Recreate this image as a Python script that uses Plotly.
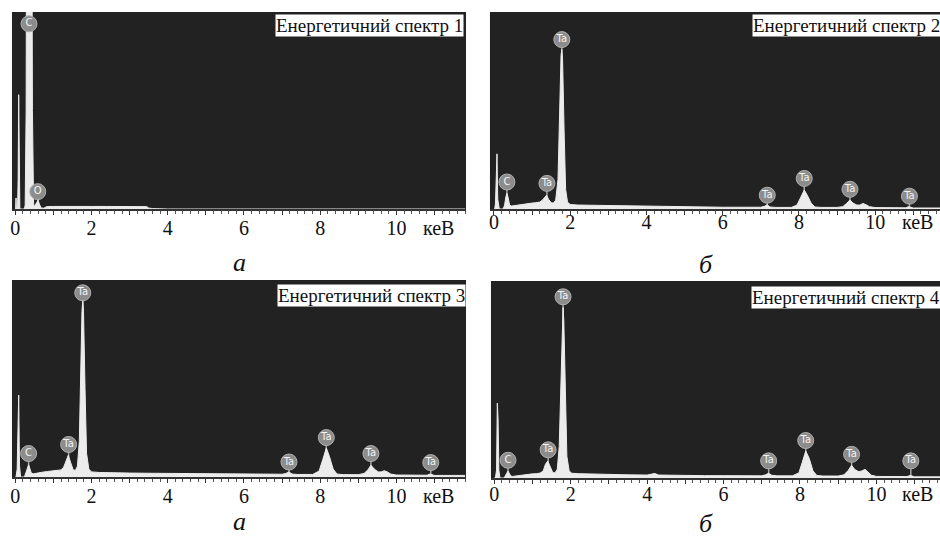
import plotly.graph_objects as go

W, H = 940, 542

# ---------------- data (energy keV, relative intensity) ----------------
s1_x = [0.00, 0.01, 0.02, 0.03, 0.06, 0.075, 0.09, 0.105, 0.12, 0.24, 0.26, 0.285, 0.30, 0.43, 0.45, 0.48,
        0.50, 0.54, 0.57, 0.60, 0.63, 0.68, 0.75, 0.82, 1.0, 1.3, 1.6, 2.0, 2.4, 2.8, 3.2, 3.45, 3.5, 3.6, 4.0, 11.8]
s1_y = [0, 0, 5.6, 0, 0, 15, 58, 15, 0, 0, 2, 50, 200, 200, 50, 3,
        1, 2.5, 4.0, 4.5, 2.5, 0.5, 0.4, 1.2, 1.3, 1.4, 1.4, 1.3, 1.3, 1.3, 1.2, 1.2, 0.5, 0.2, 0, 0]

s2_x = [0.00, 0.02, 0.04, 0.06, 0.08, 0.10, 0.14, 0.24, 0.28, 0.31, 0.34, 0.37, 0.41, 0.46,
        0.55, 0.7, 0.85, 1.0, 1.1, 1.2, 1.27, 1.33, 1.38, 1.43, 1.50, 1.56, 1.62, 1.68,
        1.72, 1.76, 1.78, 1.80, 1.84, 1.88, 1.93, 2.0, 2.2, 2.5, 3.0, 3.5, 4.0, 4.5, 5.0, 5.5, 6.0, 6.5, 7.0,
        7.1, 7.17, 7.24, 7.4, 7.8, 7.95, 8.05, 8.14, 8.22, 8.32, 8.42, 8.6,
        9.0, 9.15, 9.25, 9.34, 9.42, 9.52, 9.6, 9.68, 9.76, 9.85, 10.0, 10.5, 10.8, 10.88, 10.95, 11.0, 11.8]
s2_y = [0, 0, 3, 20, 28, 5, 0, 0, 2, 6, 8, 6, 2, 1.5,
        1.8, 2.2, 2.6, 3.0, 3.2, 3.5, 4.5, 6.0, 7.0, 5.0, 3.2, 3.0, 4.5, 15,
        50, 78, 81, 76, 40, 10, 3.5, 2.3, 2.0, 1.9, 1.7, 1.5, 1.3, 1.2, 1.1, 1.0, 0.9, 0.9, 0.9,
        1.4, 2.2, 1.0, 0.8, 0.8, 2.0, 6.0, 9.6, 7.0, 3.0, 1.0, 0.8,
        0.8, 1.2, 2.8, 4.6, 3.0, 2.0, 2.0, 2.8, 2.2, 1.2, 0.7, 0.6, 0.6, 1.2, 1.0, 0.5, 0.5]

s3_x = [0.00, 0.02, 0.05, 0.07, 0.09, 0.11, 0.14, 0.24, 0.28, 0.32, 0.35, 0.38, 0.42, 0.47,
        0.55, 0.7, 0.85, 1.0, 1.1, 1.2, 1.27, 1.33, 1.39, 1.45, 1.52, 1.58, 1.63, 1.68,
        1.71, 1.75, 1.77, 1.79, 1.83, 1.87, 1.93, 2.0, 2.2, 2.5, 3.0, 3.5, 4.0, 4.5, 5.0, 5.5, 6.0, 6.5, 7.0,
        7.1, 7.18, 7.26, 7.4, 7.8, 7.97, 8.07, 8.16, 8.24, 8.34, 8.44, 8.6,
        9.0, 9.15, 9.25, 9.33, 9.42, 9.52, 9.6, 9.68, 9.76, 9.85, 10.0, 10.5, 10.8, 10.88, 10.95, 11.0, 11.8]
s3_y = [0, 0, 4, 25, 41.6, 6, 0, 0, 2, 5, 6.2, 4.5, 2, 1.6,
        2.0, 2.4, 2.8, 3.0, 3.2, 3.6, 5.0, 8.5, 11, 7.5, 3.6, 3.4, 5.5, 18,
        50, 84, 90, 84, 45, 12, 4, 2.6, 2.3, 2.1, 2.0, 1.9, 1.8, 1.7, 1.6, 1.5, 1.4, 1.4, 1.4,
        1.8, 2.6, 1.5, 1.3, 1.3, 3.0, 9.0, 14.7, 10.5, 4.0, 1.5, 1.2,
        1.2, 1.8, 3.6, 6.0, 4.0, 2.6, 2.6, 3.2, 2.6, 1.5, 1.0, 0.9, 0.9, 1.5, 1.1, 0.8, 0.8]

s4_x = [0.00, 0.03, 0.06, 0.08, 0.10, 0.12, 0.15, 0.26, 0.30, 0.33, 0.36, 0.39, 0.43, 0.48,
        0.55, 0.7, 0.85, 1.0, 1.1, 1.2, 1.28, 1.34, 1.40, 1.46, 1.53, 1.59, 1.65, 1.70,
        1.74, 1.78, 1.80, 1.82, 1.86, 1.90, 1.96, 2.03, 2.2, 2.5, 3.0, 3.5, 4.0, 4.2, 4.3, 4.5, 5.0, 5.5, 6.0, 6.5, 7.0,
        7.1, 7.18, 7.26, 7.4, 7.8, 7.97, 8.06, 8.15, 8.24, 8.34, 8.44, 8.6,
        9.0, 9.15, 9.26, 9.35, 9.44, 9.54, 9.62, 9.70, 9.78, 9.87, 10.0, 10.5, 10.8, 10.88, 10.95, 11.0, 11.8]
s4_y = [0, 0, 4, 38, 30, 4, 0, 0, 1.5, 3.0, 3.5, 2.5, 1.0, 0.8,
        1.0, 1.6, 1.9, 2.1, 2.2, 2.5, 3.5, 7.0, 8.6, 6.0, 2.8, 2.6, 4.5, 16,
        50, 82, 86.5, 80, 42, 11, 3.6, 2.4, 2.2, 2.0, 1.8, 1.6, 1.5, 2.3, 1.5, 1.4, 1.3, 1.2, 1.2, 1.1, 1.1,
        1.6, 2.4, 1.4, 1.1, 1.1, 2.6, 8.0, 13.7, 10.0, 3.6, 1.3, 1.0,
        1.0, 1.6, 3.8, 6.4, 4.2, 3.2, 3.6, 4.4, 3.0, 1.4, 0.8, 0.7, 0.7, 1.3, 1.0, 0.6, 0.6]

# element label positions (energy, label height) and texts
m1_x = [0.36, 0.59]
m1_y = [94, 8.8]
m1_t = ["C", "O"]
m2_x = [0.34, 1.39, 1.78, 7.17, 8.14, 9.34, 10.9]
m2_y = [13.7, 13.0, 86.0, 7.0, 15.5, 10.0, 6.5]
m3_x = [0.35, 1.40, 1.77, 7.18, 8.16, 9.33, 10.9]
m3_y = [11.9, 16.5, 93.5, 7.6, 20.0, 11.9, 7.3]
m4_x = [0.36, 1.41, 1.80, 7.18, 8.15, 9.35, 10.9]
m4_y = [9.0, 14.3, 92.0, 8.7, 19.0, 12.0, 8.7]
ta_labels = ["C", "Ta", "Ta", "Ta", "Ta", "Ta", "Ta"]

tick_vals = list(range(0, 12))
tick_text = ["0", "", "2", "", "4", "", "6", "", "8", "", "10", ""]
titles = ["Енергетичний спектр 1", "Енергетичний спектр 2",
          "Енергетичний спектр 3", "Енергетичний спектр 4"]
captions = ["а", "б", "а", "б"]
unit = "кеВ"

# ---------------- layout geometry (pixels) ----------------
# (left, right, top, bottom, x of 0 keV, px per keV)
panels = [
    (10, 465, 12, 209, 13.3, 38.2),
    (489, 940, 12, 209, 493.0, 38.2),
    (10, 465, 280, 477, 13.3, 38.2),
    (490, 940, 281, 478, 493.3, 38.3),
]
spectra = [(s1_x, s1_y), (s2_x, s2_y), (s3_x, s3_y), (s4_x, s4_y)]
markers = [(m1_x, m1_y, m1_t), (m2_x, m2_y, ta_labels),
           (m3_x, m3_y, ta_labels), (m4_x, m4_y, ta_labels)]
label_standoff = [-4, -10, -4, -7]
box_pos = [(463, 14), (941, 14), (465, 284), (941, 286)]
unit_pos = [(437, 228), (917, 222), (437, 496), (917, 494)]
cap_pos = [(238, 262), (705, 264), (238, 521), (705, 523)]


def px(X):
    return X / W


def py(Y):
    return 1 - Y / H


BG = "#222222"
SPEC = "#ececec"
SERIF = "Liberation Serif"

fig = go.Figure()
annotations = []

for i, ((l, r, t, b, x0, ppk), (sx, sy), (mx, my, mt)) in enumerate(zip(panels, spectra, markers)):
    n = "" if i == 0 else str(i + 1)
    xa, ya = "x" + n, "y" + n
    stem_x, stem_y = [], []
    for xx, yy in zip(mx, my):
        stem_x += [xx, xx, None]
        stem_y += [yy, 0, None]
    fig.add_trace(go.Scatter(x=stem_x, y=stem_y, mode="lines",
                             line=dict(color="#a8a8a8", width=1.5),
                             xaxis=xa, yaxis=ya, hoverinfo="skip", showlegend=False))
    fig.add_trace(go.Scatter(x=sx, y=sy, mode="lines", fill="tozeroy",
                             line=dict(color=SPEC, width=1), fillcolor=SPEC,
                             xaxis=xa, yaxis=ya, showlegend=False))
    fig.add_trace(go.Scatter(x=mx, y=my, mode="markers+text", text=mt,
                             textposition="middle center",
                             textfont=dict(family="DejaVu Sans", size=10, color="#f4f4f4"),
                             marker=dict(size=16, color="#8c8c8c",
                                         line=dict(color="#b0b0b0", width=1)),
                             xaxis=xa, yaxis=ya, showlegend=False, cliponaxis=False))
    xr = [(l - x0) / ppk, (r - x0) / ppk]
    xdom = [px(l), min(px(r), 1.0)]
    ydom = [py(b), py(t)]
    fig.layout["xaxis" + n] = dict(
        domain=xdom, range=xr, anchor=ya, showgrid=False, zeroline=False,
        showline=True, linecolor="#333333", linewidth=1.5,
        tickmode="array", tickvals=tick_vals, ticktext=tick_text,
        ticks="outside", ticklen=4, tickwidth=1, tickcolor="#333333",
        minor=dict(dtick=0.2, ticks="outside", ticklen=3, tickcolor="#555555", tickwidth=1),
        tickfont=dict(family=SERIF, size=20, color="#111111"),
        ticklabelstandoff=label_standoff[i], fixedrange=True)
    fig.layout["yaxis" + n] = dict(
        domain=ydom, range=[0, 100], anchor=xa, showgrid=False, zeroline=False,
        showticklabels=False, showline=False, ticks="", fixedrange=True)

    bx, by = box_pos[i]
    annotations.append(dict(text=titles[i], xref="paper", yref="paper",
                            x=px(bx), y=py(by), xanchor="right", yanchor="top",
                            showarrow=False, bgcolor="white", borderpad=0,
                            font=dict(family=SERIF, size=19, color="#111111")))
    ux, uy = unit_pos[i]
    annotations.append(dict(text=unit, xref="paper", yref="paper",
                            x=px(ux), y=py(uy), xanchor="center", yanchor="middle",
                            showarrow=False,
                            font=dict(family=SERIF, size=20, color="#111111")))
    cx, cy = cap_pos[i]
    annotations.append(dict(text="<i>" + captions[i] + "</i>", xref="paper", yref="paper",
                            x=px(cx), y=py(cy), xanchor="center", yanchor="middle",
                            showarrow=False,
                            font=dict(family=SERIF, size=26, color="#111111")))

fig.update_layout(width=W, height=H, margin=dict(l=0, r=0, t=0, b=0),
                  paper_bgcolor="white", plot_bgcolor=BG,
                  annotations=annotations, showlegend=False)

fig.write_html("out.html", config={"displayModeBar": False},
               post_script="document.body.style.margin='0';document.body.style.overflow='hidden';")
